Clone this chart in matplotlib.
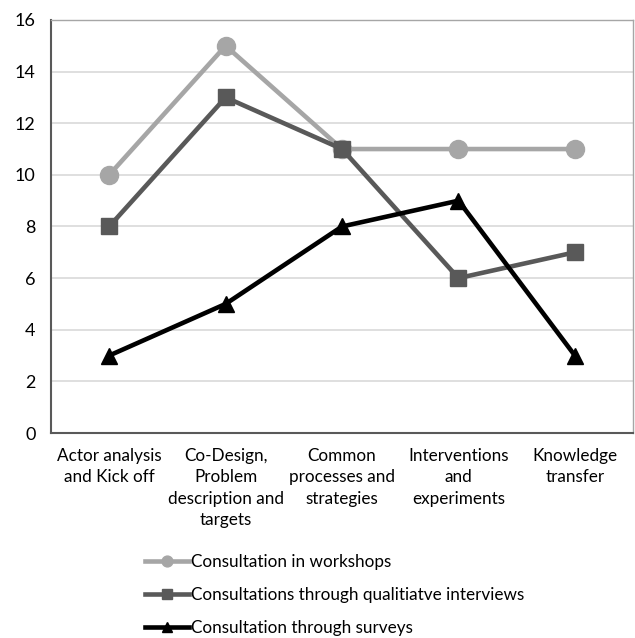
import matplotlib
matplotlib.use("Agg")
import matplotlib.pyplot as plt
from matplotlib.lines import Line2D

plt.rcParams['font.family'] = ['Lato', 'DejaVu Sans']

categories = ["Actor analysis\nand Kick off", "Co-Design,\nProblem\ndescription and\ntargets",
              "Common\nprocesses and\nstrategies", "Interventions\nand\nexperiments", "Knowledge\ntransfer"]
workshops = [10, 15, 11, 11, 11]
interviews = [8, 13, 11, 6, 7]
surveys = [3, 5, 8, 9, 3]
series_labels = ["Consultation in workshops",
                 "Consultations through qualitiatve interviews",
                 "Consultation through surveys"]
yticks = [0, 2, 4, 6, 8, 10, 12, 14, 16]

fig = plt.figure(figsize=(6.35, 6.38), dpi=100)
ax = fig.add_axes([0.0803, 0.3213, 0.9167, 0.6474])

x = list(range(len(categories)))
styles = [
    (workshops, '#a6a6a6', 'o', 13),
    (interviews, '#595959', 's', 12),
    (surveys, '#000000', '^', 12),
]
handles = []
for (vals, col, mk, ms), lab in zip(styles, series_labels):
    ax.plot(x, vals, color=col, lw=3.3, marker=mk, markersize=ms, zorder=3, clip_on=False)
    handles.append(Line2D([0], [0], color=col, lw=3.3, marker=mk, markersize=ms * 0.6, label=lab))

ax.set_xlim(-0.5, len(categories) - 0.5)
ax.set_ylim(0, 16)
ax.set_yticks(yticks)
ax.set_yticklabels([str(v) for v in yticks])
ax.set_xticks(x)
ax.set_xticklabels(categories, va='top', ha='center', linespacing=1.4)
ax.yaxis.grid(True, color='#d9d9d9', lw=1.2)
ax.set_axisbelow(True)
ax.tick_params(axis='both', length=0, colors='#000000')
ax.tick_params(axis='y', pad=11, labelsize=13)
ax.tick_params(axis='x', pad=11, labelsize=12.3)
for s in ['left', 'bottom']:
    ax.spines[s].set_color('#595959')
    ax.spines[s].set_linewidth(1.5)
for s in ['top', 'right']:
    ax.spines[s].set_color('#a6a6a6')
    ax.spines[s].set_linewidth(1.0)

fig.legend(handles=handles, loc='upper left', bbox_to_anchor=(145 / 635, 1 - 554 / 638),
           frameon=False, fontsize=12.3, handlelength=2.6, handletextpad=0.1,
           labelspacing=1.0, borderaxespad=0, borderpad=0)

fig.savefig("out.png", dpi=100)
